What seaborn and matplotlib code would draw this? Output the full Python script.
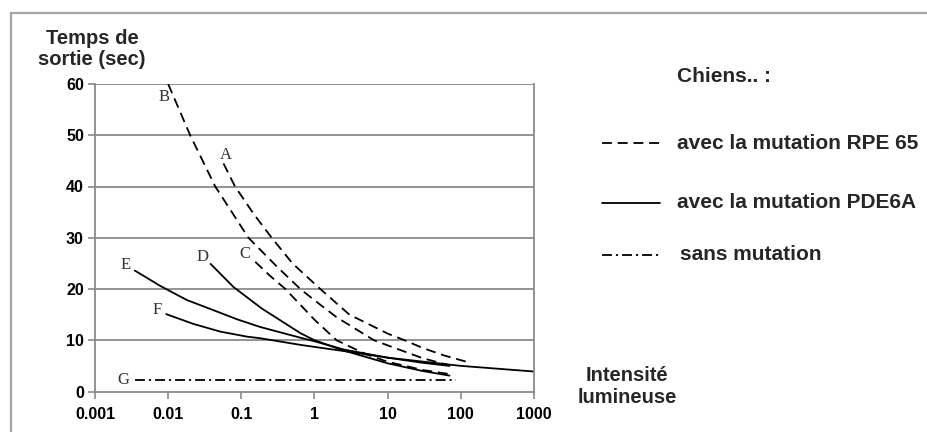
import matplotlib
matplotlib.use("Agg")
import numpy as np
import pandas as pd
import matplotlib.pyplot as plt
import seaborn as sns
from matplotlib.lines import Line2D
from matplotlib.patches import Rectangle
from matplotlib.ticker import NullLocator, FixedLocator

# ---------------- data ----------------
x_A = [0.057, 0.082, 0.15, 0.26, 0.5, 1.2, 3, 10, 17, 30, 60, 120]
y_A = [44.5, 40, 34.5, 30, 25, 20, 15, 11.3, 10, 8.5, 7, 5.8]

x_B = [0.01, 0.02, 0.044, 0.125, 0.3, 0.64, 1, 2, 6.5, 10, 30, 70]
y_B = [60, 50, 40, 30, 24.5, 20, 17.8, 14.5, 10, 9, 6.5, 5.1]

x_C = [0.155, 0.25, 0.4, 1, 2, 5, 10, 30, 70]
y_C = [25.3, 22.5, 20, 14, 10, 7.3, 5.8, 4.2, 3.4]

x_D = [0.038, 0.078, 0.19, 0.64, 1, 2.5, 10, 30, 70]
y_D = [24.9, 20.4, 16.2, 11.4, 10, 8, 5.5, 4, 3.1]

x_E = [0.0035, 0.0078, 0.018, 0.041, 0.087, 0.18, 0.64, 1, 2.5, 10, 30, 70]
y_E = [23.6, 20.6, 17.85, 15.9, 14.1, 12.6, 10.5, 9.8, 8.2, 6.6, 5.6, 5.0]

x_F = [0.0094, 0.022, 0.051, 0.12, 0.18, 0.64, 1, 2.5, 10, 100, 1000]
y_F = [15.1, 13.2, 11.7, 10.7, 10.4, 9.1, 8.7, 7.9, 6.6, 5.0, 3.9]

x_G = [0.0035, 85]
y_G = [2.3, 2.3]

curve_names = ["A", "B", "C", "D", "E", "F", "G"]
curve_groups = ["RPE 65", "RPE 65", "RPE 65", "PDE6A", "PDE6A", "PDE6A", "sans"]
x_ticks = [0.001, 0.01, 0.1, 1, 10, 100, 1000]
x_tick_labels = ["0.001", "0.01", "0.1", "1", "10", "100", "1000"]
y_ticks = [0, 10, 20, 30, 40, 50, 60]
legend_labels = ["avec la mutation RPE 65", "avec la mutation PDE6A", "sans mutation"]

xs = [x_A, x_B, x_C, x_D, x_E, x_F, x_G]
ys = [y_A, y_B, y_C, y_D, y_E, y_F, y_G]
rows = []
for name, grp, xx, yy in zip(curve_names, curve_groups, xs, ys):
    for a, b in zip(xx, yy):
        rows.append({"curve": name, "group": grp, "x": a, "y": b})
df = pd.DataFrame(rows)

# ---------------- styling ----------------
sns.set_theme(style="white")
plt.rcParams["font.family"] = ["Liberation Sans", "DejaVu Sans"]

W, H = 928, 432
fig = plt.figure(figsize=(W / 100, H / 100), dpi=100)
fig.patch.set_facecolor("white")

# outer gray frame
fig.add_artist(Rectangle((11 / W, -0.2), 1.2, 1 - 13 / H + 0.2, transform=fig.transFigure,
                         fill=False, edgecolor="#a6a6a6", linewidth=1.6))

left, right, top, bottom = 95, 534, 84, 391.5
ax = fig.add_axes([left / W, 1 - bottom / H, (right - left) / W, (bottom - top) / H])
ax.set_facecolor("white")

styles = {
    "RPE 65": (0, (5.5, 3.2)),
    "PDE6A": "-",
    "sans": (0, (5.5, 2.2, 1.2, 2.2)),
}

for name, grp in zip(curve_names, curve_groups):
    sub = df[df["curve"] == name]
    sns.lineplot(data=sub, x="x", y="y", ax=ax, color="black", linewidth=1.3,
                 linestyle=styles[grp], sort=False, estimator=None, legend=False)

ax.set_xscale("log")
ax.set_xlim(0.001, 1000)
ax.set_ylim(0, 60)
ax.xaxis.set_major_locator(FixedLocator(x_ticks))
ax.set_xticklabels(x_tick_labels)
ax.xaxis.set_minor_locator(NullLocator())
ax.set_yticks(y_ticks)
ax.set_xlabel("")
ax.set_ylabel("")

ax.grid(False)
for yv in y_ticks[1:]:
    ax.axhline(yv, color="#8a8a8a", linewidth=1.3, zorder=0.5)

for s in ["left", "bottom", "right"]:
    ax.spines[s].set_color("#8a8a8a")
    ax.spines[s].set_linewidth(1.3)
ax.spines["top"].set_visible(False)

ax.tick_params(axis="both", which="major", direction="out", length=5, width=1.2,
               color="#8a8a8a", labelsize=11.5, labelcolor="black", pad=3,
               bottom=True, left=True)
for lbl in ax.get_xticklabels() + ax.get_yticklabels():
    lbl.set_fontweight("bold")
ax.tick_params(axis="x", pad=6)

# curve letters (offset in points from the first point of each curve)
letter_offsets = {"A": (1.7, 6.0), "B": (-3.1, -9.6), "C": (-7.2, 5.5), "D": (-5.8, 5.3),
                  "E": (-6.5, 4.1), "F": (-6.7, 2.9), "G": (-8.4, 0.0)}
for name, xx, yy in zip(curve_names, xs, ys):
    ax.annotate(name, (xx[0], yy[0]), xytext=letter_offsets[name], textcoords="offset points",
                ha="center", va="center", fontsize=12, color="#333333",
                family=["Liberation Serif", "DejaVu Serif"])

# axis titles
fig.text(92 / W, 1 - 49 / H, "Temps de\nsortie (sec)", ha="center", va="center",
         fontsize=14.5, fontweight="bold", linespacing=1.15)
fig.text(627 / W, 1 - 386.5 / H, "Intensité\nlumineuse", ha="center", va="center",
         fontsize=14.5, fontweight="bold", linespacing=1.15)

# legend
fig.text(677 / W, 1 - 77 / H, "Chiens.. :", ha="left", va="center",
         fontsize=15, fontweight="bold")
leg_y = [143, 203, 255]
leg_styles = [styles["RPE 65"], styles["PDE6A"], styles["sans"]]
leg_x_text = [677, 677, 680]
for yy, st, lab, xt in zip(leg_y, leg_styles, legend_labels, leg_x_text):
    fig.add_artist(Line2D([602 / W, 660 / W], [1 - yy / H, 1 - yy / H], transform=fig.transFigure,
                          color="black", linewidth=1.3, linestyle=st))
    fig.text(xt / W, 1 - yy / H, lab, ha="left", va="center", fontsize=15, fontweight="bold")

fig.savefig("out.png", dpi=100)
